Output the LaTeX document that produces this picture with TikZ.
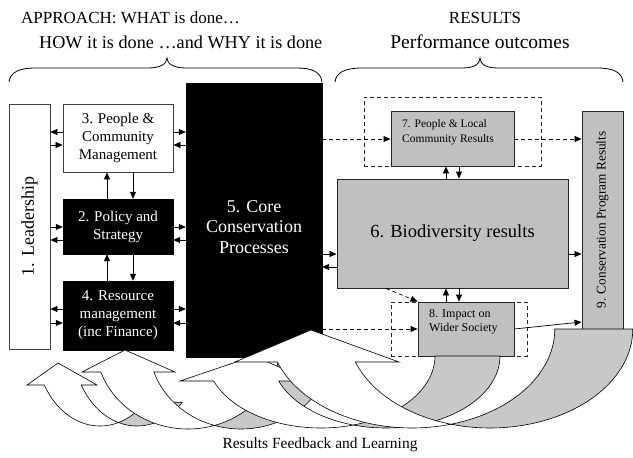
\documentclass[tikz,border=0pt]{standalone}
\usepackage{fontspec}
\setmainfont{Liberation Serif}
\usetikzlibrary{arrows.meta,calc}
\definecolor{boxgray}{RGB}{192,192,192}
\definecolor{backgray}{RGB}{200,200,200}
\tikzset{
 conn/.style={-{Triangle[length=7pt,width=6pt]}, line width=0.7pt},
 dconn/.style={conn, dash pattern=on 4pt off 3pt},
 whitebox/.style={draw=black!75, line width=0.9pt, fill=white, inner sep=0pt, align=center},
 blackbox/.style={draw=black, fill=black, text=white, inner sep=0pt, align=center},
 graybox/.style={draw=black!85, line width=0.9pt, fill=boxgray, inner sep=0pt},
 dashbox/.style={draw=black!85, line width=0.7pt, dash pattern=on 4pt off 3pt},
 frontfill/.style={fill=white, draw=black, line width=0.6pt},
 backfill/.style={fill=backgray, draw=black, line width=0.6pt},
 bracestyle/.style={line width=0.8pt},
}
\newcommand{\hdrfont}{\fontsize{17}{20}\selectfont}
\newcommand{\boxfont}{\fontsize{15}{18}\selectfont}
\newcommand{\bigfont}{\fontsize{18}{20.5}\selectfont}
\newcommand{\smallfont}{\fontsize{11.5}{15.5}\selectfont}
% back (tail) part of a curved arrow: c cy rx ry w endangle
\newcommand{\cvback}[6]{%
 \pgfmathsetmacro\cvA{acos(#5/(2*#3))}%
 \pgfmathsetmacro\cvB{180-\cvA}%
 \pgfmathsetmacro\cvCC{#1+#5}%
 \path[backfill] plot[domain=\cvB:#6, samples=50] ({\cvCC+#3*cos(\x)},{#2+#4*sin(\x)})
   -- plot[domain=#6:\cvA, samples=50] ({#1+#3*cos(\x)},{#2+#4*sin(\x)}) -- cycle;
}
% front part + head: c cy rx ry w yh headL headR tip
\newcommand{\cvfront}[9]{%
 \pgfmathsetmacro\cvA{acos(#5/(2*#3))}%
 \pgfmathsetmacro\cvH{asin((#6-#2)/#4)}%
 \pgfmathsetmacro\cvS{180-\cvH}%
 \pgfmathsetmacro\cvB{180-\cvA}%
 \pgfmathsetmacro\cvCC{#1+#5}%
 \path[frontfill] plot[domain=\cvS:\cvA, samples=60] ({#1+#3*cos(\x)},{#2+#4*sin(\x)})
   -- plot[domain=\cvB:\cvS, samples=60] ({\cvCC+#3*cos(\x)},{#2+#4*sin(\x)})
   -- (#8,#6) -- #9 -- (#7,#6) -- cycle;
}
\begin{document}
\begin{tikzpicture}[x=1pt,y=-1pt]
\useasboundingbox (0,0) rectangle (633,458);

% headings
\node[anchor=west, font=\hdrfont, inner sep=0pt] (h1) at (21,18) {APPROACH: WHAT is done…};
\node[anchor=west, font=\fontsize{18.2}{20}\selectfont, inner sep=0pt] (h2) at (39,42) {HOW it is done …and WHY it is done};
\node[font=\hdrfont, inner sep=0pt] (h3) at (485,18) {RESULTS};
\node[font=\fontsize{19.5}{22}\selectfont, inner sep=0pt] (h4) at (480,42) {Performance outcomes};

% braces
\draw[bracestyle] (9,82) .. controls (10,72) and (20,68) .. (35,68) -- (148,68)
  .. controls (160,68) and (167,64) .. (167,58) .. controls (167,64) and (174,68) .. (186,68)
  -- (297,68) .. controls (312,68) and (321,72) .. (322,82);
\draw[bracestyle] (335,82) .. controls (336,72) and (346,68) .. (362,68) -- (462,68)
  .. controls (474,68) and (480,64) .. (480,58) .. controls (480,64) and (486,68) .. (498,68)
  -- (597,68) .. controls (613,68) and (622,72) .. (623,82);

% backs hidden behind boxes
\cvback{100}{345}{64}{81}{37}{45}
\cvback{188}{345}{92}{84}{53}{0}

% boxes
\node[whitebox, minimum width=41pt, minimum height=245pt] (b1) at (29.5,226.5) {};
\node[rotate=90, font=\fontsize{18}{20}\selectfont] (b1t) at (b1.center) {1. Leadership};
\node[whitebox, minimum width=110pt, minimum height=68pt, font=\boxfont] (b3) at (118,138) {3. People \&\\Community\\Management};
\node[blackbox, minimum width=110pt, minimum height=55pt, font=\boxfont] (b2) at (118,226.5) {2. Policy and\\Strategy};
\node[blackbox, minimum width=110pt, minimum height=69pt, font=\boxfont] (b4) at (118,315.5) {4. Resource\\management\\(inc Finance)};
\node[blackbox, minimum width=136pt, minimum height=274pt] (b5) at (254,220) {};
\node[text=white, align=center, font=\bigfont] (b5t) at (254,227) {5. Core\\Conservation\\Processes};
\node[dashbox, minimum width=177pt, minimum height=69pt] (d7) at (452.5,131.5) {};
\node[graybox, minimum width=123pt, minimum height=55pt] (b7) at (452.5,138.5) {};
\node[anchor=west, align=left, font=\smallfont, inner sep=0pt] (b7t) at (402,132) {7. People \& Local\\Community Results};
\node[graybox, minimum width=231pt, minimum height=109pt, font=\fontsize{18.5}{20}\selectfont] (b6) at (452.5,233.5) {6. Biodiversity results};
\node[dashbox, minimum width=136pt, minimum height=54pt] (d8) at (459,329) {};
\node[graybox, minimum width=96pt, minimum height=54pt] (b8) at (466,329) {};
\node[anchor=west, align=left, font=\fontsize{12}{14}\selectfont, inner sep=0pt] (b8t) at (429,322) {8. Impact on\\Wider Society};
\node[graybox, minimum width=41pt, minimum height=218pt] (b9) at (602.5,220) {};
\node[rotate=90, font=\fontsize{13.3}{15}\selectfont] (b9t) at (b9.center) {9. Conservation Program Results};

% connectors left part
\draw[conn] (b3.west |- 0,132) -- (b1.east |- 0,132);
\draw[conn] (b1.east |- 0,145) -- (b3.west |- 0,145);
\draw[conn] (b3.east |- 0,132) -- (b5.west |- 0,132);
\draw[conn] (b5.west |- 0,145) -- (b3.east |- 0,145);
\draw[conn] (b2.north -| 107,0) -- (b3.south -| 107,0);
\draw[conn] (b3.south -| 133,0) -- (b2.north -| 133,0);
\draw[conn] (b1.east |- 0,227) -- (b2.west |- 0,227);
\draw[conn] (b2.west |- 0,240) -- (b1.east |- 0,240);
\draw[conn] (b2.east |- 0,227) -- (b5.west |- 0,227);
\draw[conn] (b5.west |- 0,240) -- (b2.east |- 0,240);
\draw[conn] (b4.north -| 107,0) -- (b2.south -| 107,0);
\draw[conn] (b2.south -| 133,0) -- (b4.north -| 133,0);
\draw[conn] (b4.west |- 0,309) -- (b1.east |- 0,309);
\draw[conn] (b1.east |- 0,323) -- (b4.west |- 0,323);
\draw[conn] (b4.east |- 0,309) -- (b5.west |- 0,309);
\draw[conn] (b5.west |- 0,323) -- (b4.east |- 0,323);

% connectors right part
\draw[conn] (b5.east |- 0,254) -- (b6.west |- 0,254);
\draw[conn] (b6.west |- 0,267) -- (b5.east |- 0,267);
\draw[conn] (b6.north -| 446,0) -- (b7.south -| 446,0);
\draw[conn] (b7.south -| 459,0) -- (b6.north -| 459,0);
\draw[conn] (b8.north -| 446,0) -- (b6.south -| 446,0);
\draw[conn] (b6.south -| 459,0) -- (b8.north -| 459,0);
\draw[conn] (b6.east |- 0,254) -- (b9.west |- 0,254);
\draw[dconn] (b5.east |- 0,139) -- (b7.west |- 0,139);
\draw[dconn] (b7.east |- 0,139) -- (b9.west |- 0,139);
\draw[dconn] (b5.east |- 0,329) -- (b8.west |- 0,329);
\draw[dconn] (b6.south -| 386,0) -- (b8.north west);
\draw[conn] (b8.east |- 0,329) -- (b9.west |- 0,322);

% remaining backs
\cvback{320.8}{356}{114.2}{72}{65}{0}
\cvback{412}{329}{142.8}{99}{78}{0}

% fronts
\cvfront{100}{345}{64}{81}{37}{385}{27}{97}{(58,363)}
\cvfront{188}{345}{92}{84}{53}{372}{82}{175}{(125,350)}
\cvfront{320.8}{356}{114.2}{72}{65}{381}{180}{311}{(254,356)}
\cvfront{412}{329}{142.8}{99}{78}{362}{235}{399}{(311,330)}

\node[font=\fontsize{15.5}{18}\selectfont] (fb) at (320,445) {Results Feedback and Learning};
\end{tikzpicture}
\end{document}
